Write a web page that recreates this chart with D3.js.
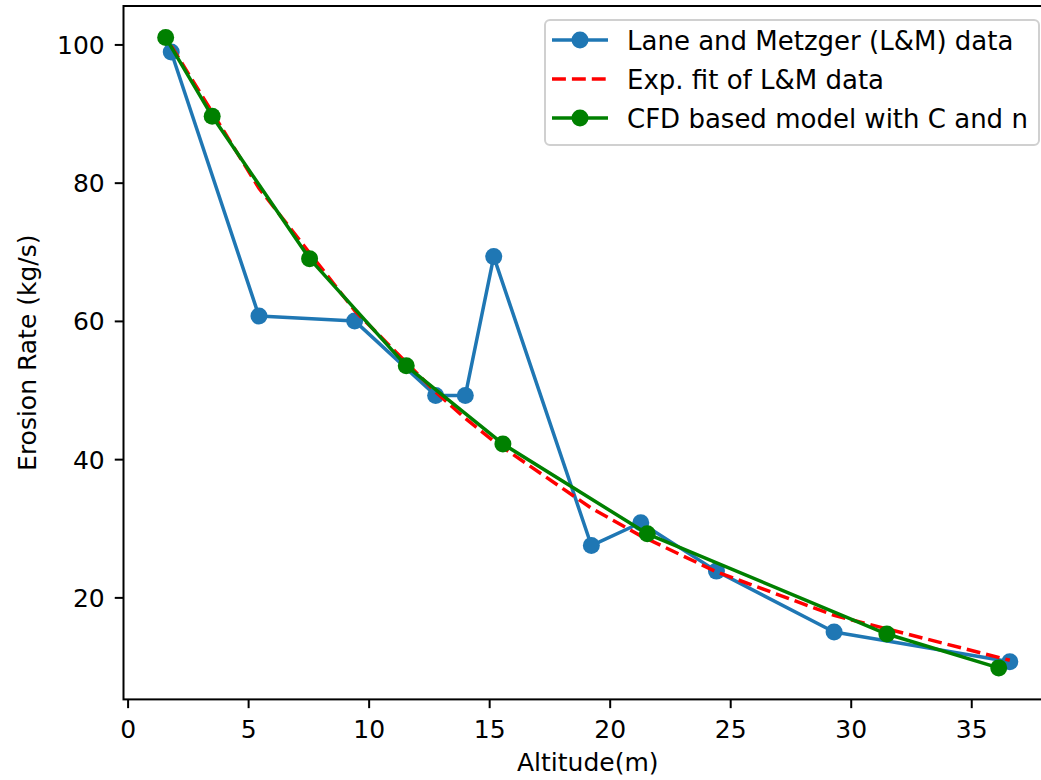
<!DOCTYPE html>
<html>
<head>
<meta charset="utf-8">
<script src="https://cdn.jsdelivr.net/npm/d3@7"></script>
<style>
  body { margin: 0; background: #fff; }
  text { font-family: "DejaVu Sans", sans-serif; }
</style>
</head>
<body>
<script>
// Lane and Metzger measurements
let lmAlt = [1.81, 5.45, 9.42, 12.78, 14.01, 15.19, 19.24, 21.29, 24.43, 29.31, 36.6];
let lmRate = [98.9, 60.7, 60.0, 49.2, 49.2, 69.3, 27.5, 30.8, 23.8, 15.0, 10.7];
// exponential fit, read at the same altitudes
let fitRate = [99.8, 79.2, 61.5, 49.7, 45.9, 42.6, 32.9, 28.9, 23.7, 17.4, 10.9];
// CFD based model
let cfdAlt = [1.58, 3.51, 7.55, 11.56, 15.57, 21.56, 31.5, 36.14];
let cfdRate = [101.0, 89.6, 69.0, 53.5, 42.2, 29.2, 14.7, 9.8];

let xTicks = [0, 5, 10, 15, 20, 25, 30, 35];
let yTicks = [20, 40, 60, 80, 100];
let legendNames = ["Lane and Metzger (L&M) data", "Exp. fit of L&M data", "CFD based model with C and n"];

let plotLeft = 123.5, plotTop = 6, plotRight = 1052, plotBottom = 699.4;

let svg = d3.select("body")
            .append("svg")
            .attr("width", 1041)
            .attr("height", 780);

let x = d3.scaleLinear().domain([-0.17, 38.35]).range([plotLeft, plotRight]);
let y = d3.scaleLinear().domain([5.24, 105.56]).range([plotBottom, plotTop]);

let line = d3.line().x(d => x(d[0])).y(d => y(d[1]));

let lmData = lmAlt.map((a, i) => [a, lmRate[i]]);
let fitData = lmAlt.map((a, i) => [a, fitRate[i]]);
let cfdData = cfdAlt.map((a, i) => [a, cfdRate[i]]);

// blue data
svg.append("path")
   .attr("d", line(lmData))
   .attr("fill", "none")
   .attr("stroke", "#1f77b4")
   .attr("stroke-width", 3.5)
   .attr("stroke-linejoin", "round");
svg.selectAll("circle.lm")
   .data(lmData)
   .enter()
   .append("circle")
   .attr("class", "lm")
   .attr("cx", d => x(d[0]))
   .attr("cy", d => y(d[1]))
   .attr("r", 8.5)
   .attr("fill", "#1f77b4");

// red dashed fit
svg.append("path")
   .attr("d", line(fitData))
   .attr("fill", "none")
   .attr("stroke", "#ff0000")
   .attr("stroke-width", 3.5)
   .attr("stroke-dasharray", "13.9,6");

// green model
svg.append("path")
   .attr("d", line(cfdData))
   .attr("fill", "none")
   .attr("stroke", "#008000")
   .attr("stroke-width", 3.5)
   .attr("stroke-linejoin", "round");
svg.selectAll("circle.cfd")
   .data(cfdData)
   .enter()
   .append("circle")
   .attr("class", "cfd")
   .attr("cx", d => x(d[0]))
   .attr("cy", d => y(d[1]))
   .attr("r", 8.5)
   .attr("fill", "#008000");

// frame
svg.append("rect")
   .attr("x", plotLeft)
   .attr("y", plotTop)
   .attr("width", plotRight - plotLeft)
   .attr("height", plotBottom - plotTop)
   .attr("fill", "none")
   .attr("stroke", "#000")
   .attr("stroke-width", 2);

// axes
let xAxis = svg.append("g")
   .attr("transform", "translate(0," + plotBottom + ")")
   .call(d3.axisBottom(x).tickValues(xTicks).tickSize(8.75).tickSizeOuter(0).tickPadding(12.5));
let yAxis = svg.append("g")
   .attr("transform", "translate(" + plotLeft + ",0)")
   .call(d3.axisLeft(y).tickValues(yTicks).tickSize(8.75).tickSizeOuter(0).tickPadding(10));

[xAxis, yAxis].forEach(g => {
  g.select(".domain").remove();
  g.selectAll("line").attr("stroke", "#000").attr("stroke-width", 2);
  g.selectAll("text")
   .style("font-family", "DejaVu Sans")
   .style("font-size", "25px")
   .attr("fill", "#000");
});
yAxis.selectAll("text").attr("dy", "0.36em");

svg.append("text")
   .attr("x", (plotLeft + plotRight) / 2)
   .attr("y", 771)
   .attr("text-anchor", "middle")
   .style("font-size", "25px")
   .text("Altitude(m)");

svg.append("text")
   .attr("transform", "translate(36," + (plotTop + plotBottom) / 2 + ") rotate(-90)")
   .attr("text-anchor", "middle")
   .style("font-size", "25px")
   .text("Erosion Rate (kg/s)");

// legend
let lg = svg.append("g");
lg.append("rect")
  .attr("x", 545)
  .attr("y", 20)
  .attr("width", 494)
  .attr("height", 125)
  .attr("rx", 5)
  .attr("fill", "#fff")
  .attr("fill-opacity", 0.8)
  .attr("stroke", "#d0d0d0")
  .attr("stroke-width", 2);

let colors = ["#1f77b4", "#ff0000", "#008000"];
let dashes = [null, "13.9,6", null];
let markers = [true, false, true];
legendNames.forEach((name, i) => {
  let cy = 40 + i * 39;
  lg.append("line")
    .attr("x1", 552).attr("x2", 608)
    .attr("y1", cy).attr("y2", cy)
    .attr("stroke", colors[i])
    .attr("stroke-width", 3.5)
    .attr("stroke-dasharray", dashes[i]);
  if (markers[i]) {
    lg.append("circle")
      .attr("cx", 580).attr("cy", cy).attr("r", 8.5)
      .attr("fill", colors[i]);
  }
  lg.append("text")
    .attr("x", 627)
    .attr("y", cy + 9.5)
    .style("font-size", "26px")
    .text(name);
});
</script>
</body>
</html>
